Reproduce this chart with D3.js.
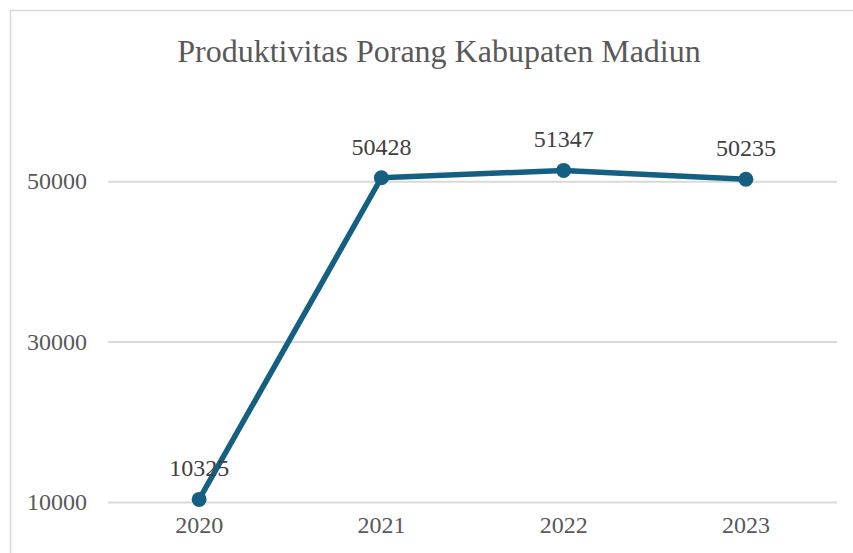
<!DOCTYPE html>
<html>
<head>
<meta charset="utf-8">
<script src="https://cdn.jsdelivr.net/npm/d3@7"></script>
<style>
  body { margin: 0; background: #fff; }
  svg { display: block; }
</style>
</head>
<body>
<div id="chart"></div>
<script>
let years = ["2020", "2021", "2022", "2023"]
let values = [10325, 50428, 51347, 50235]
let yTicks = [10000, 30000, 50000]
let title = "Produktivitas Porang Kabupaten Madiun"

function chartConfig(){
    let width = 853;
    let height = 553;
    let margin = { top: 101, bottom: 51, left: 108, right: 16 }
    let bodyWidth = width - margin.left - margin.right;
    let bodyHeight = height - margin.top - margin.bottom;
    let svg = d3.select("#chart")
                .append("svg")
                .attr("width", width)
                .attr("height", height)
    let container = svg.append("g")
                .attr("transform", "translate(" + [margin.left, margin.top] + ")")
    return { width, height, margin, bodyWidth, bodyHeight, svg, container };
}

function chartScales(config){
    let { bodyWidth, bodyHeight } = config;
    let xScale = d3.scaleBand()
                .domain(years)
                .range([0, bodyWidth])
                .padding(0)
    let yScale = d3.scaleLinear()
                .domain([10000, 60000])
                .range([bodyHeight, 0])
    return { xScale, yScale };
}

function drawChart(config, scales){
    let { svg, container, bodyWidth, bodyHeight, width } = config;
    let { xScale, yScale } = scales;
    let font = "'Liberation Serif', 'Times New Roman', serif";
    let textColor = "#595959";
    let lineColor = "#156082";

    // chart frame (only left/top edges show in the crop)
    svg.append("rect")
        .attr("x", 10.5)
        .attr("y", 10.5)
        .attr("width", 900)
        .attr("height", 700)
        .attr("fill", "none")
        .attr("stroke", "#d9d9d9")
        .attr("stroke-width", 1.5)

    svg.append("text")
        .attr("x", 439)
        .attr("y", 62)
        .attr("text-anchor", "middle")
        .style("font-family", font)
        .style("font-size", "32px")
        .style("fill", textColor)
        .text(title)

    // gridlines + y labels
    let axisY = d3.axisLeft(yScale)
                .tickValues(yTicks)
                .tickSize(-bodyWidth)
                .tickPadding(21)
                .tickFormat(d3.format("d"))
    let gy = container.append("g").call(axisY)
    gy.select(".domain").remove()
    gy.selectAll(".tick line")
        .attr("stroke", "#d9d9d9")
        .attr("stroke-width", 2)
    gy.selectAll(".tick text")
        .style("font-family", font)
        .style("font-size", "24px")
        .style("fill", textColor)
        .attr("dy", "0.32em")

    let axisX = d3.axisBottom(xScale)
                .tickSize(0)
                .tickPadding(14)
    let gx = container.append("g")
        .attr("transform", "translate(0," + bodyHeight + ")")
        .call(axisX)
    gx.select(".domain").remove()
    gx.selectAll(".tick text")
        .style("font-family", font)
        .style("font-size", "24px")
        .style("fill", textColor)
        .attr("dy", "0.71em")

    let points = years.map((y, i) => ({ year: y, value: values[i] }))
    let cx = d => xScale(d.year) + xScale.bandwidth() / 2

    let line = d3.line()
                .x(cx)
                .y(d => yScale(d.value))
    container.append("path")
        .datum(points)
        .attr("d", line)
        .attr("fill", "none")
        .attr("stroke", lineColor)
        .attr("stroke-width", 5.5)
        .attr("stroke-linejoin", "round")
        .attr("stroke-linecap", "round")

    container.selectAll(".dot")
        .data(points)
        .enter()
        .append("circle")
        .attr("cx", cx)
        .attr("cy", d => yScale(d.value))
        .attr("r", 7.5)
        .attr("fill", lineColor)

    container.selectAll(".lbl")
        .data(points)
        .enter()
        .append("text")
        .attr("x", cx)
        .attr("y", d => yScale(d.value) - 23)
        .attr("text-anchor", "middle")
        .style("font-family", font)
        .style("font-size", "24px")
        .style("fill", "#404040")
        .text(d => d.value)
}

let config = chartConfig();
let scales = chartScales(config);
drawChart(config, scales);
</script>
</body>
</html>
